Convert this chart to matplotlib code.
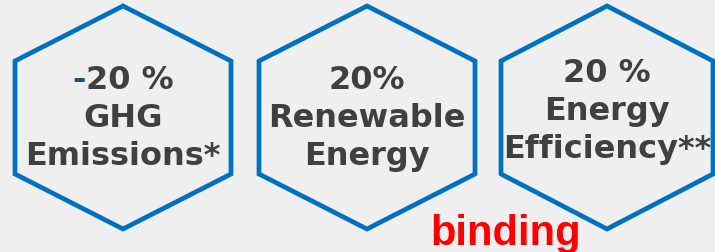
import matplotlib
matplotlib.use("Agg")
import matplotlib.pyplot as plt
import numpy as np
from matplotlib.patches import Polygon
from matplotlib.transforms import blended_transform_factory, IdentityTransform

# three targets
centers_x = [123, 367, 607]
half_widths = [108, 108, 106]
labels = [
    ["-20 %", "GHG", "Emissions*"],
    ["20%", "Renewable", "Energy"],
    ["20 %", "Energy", "Efficiency**"],
]
first_baselines = [89, 89, 82]
line_gap = 38
note_text = "binding"

bg = "#efefef"
blue = "#0070c0"
grey = "#404040"
dash_blue = "#1f4e79"
fs = 23


def main():
    fig = plt.figure(figsize=(7.15, 2.52), dpi=100)
    fig.patch.set_facecolor(bg)
    ax = fig.add_axes([0, 0, 1, 1])
    ax.set_facecolor(bg)
    ax.set_xlim(0, 715)
    ax.set_ylim(252, 0)
    ax.axis("off")

    top, shoulder_up, shoulder_dn, bottom = 6, 61, 174, 229
    for cx, hw in zip(centers_x, half_widths):
        pts = np.array([
            [cx, top], [cx + hw, shoulder_up], [cx + hw, shoulder_dn],
            [cx, bottom], [cx - hw, shoulder_dn], [cx - hw, shoulder_up],
        ])
        ax.add_patch(Polygon(pts, closed=True, facecolor=bg, edgecolor=blue,
                             linewidth=3.4, joinstyle="miter"))

    style = dict(va="baseline", fontsize=fs, fontweight="bold", family="DejaVu Sans")
    first_line = None
    for i, (cx, lines) in enumerate(zip(centers_x, labels)):
        for j, line in enumerate(lines):
            t = ax.text(cx, first_baselines[i] + j * line_gap, line,
                        ha="center", color=grey, **style)
            if i == 0 and j == 0:
                first_line = t

    # split the first label: blue minus, grey number
    fig.canvas.draw()
    bb = first_line.get_window_extent()
    first_line.remove()
    trans = blended_transform_factory(IdentityTransform(), ax.transData)
    ax.text(bb.x0, first_baselines[0], labels[0][0][0], ha="left",
            color=dash_blue, transform=trans, **style)
    ax.text(bb.x1, first_baselines[0], labels[0][0][1:], ha="right",
            color=grey, transform=trans, **style)

    ax.text(430, 245, note_text, ha="left", va="baseline", color="#ff0000",
            fontsize=30, fontweight="bold", family="Liberation Sans")

    fig.savefig("out.png", dpi=100, facecolor=bg)


if __name__ == "__main__":
    main()
